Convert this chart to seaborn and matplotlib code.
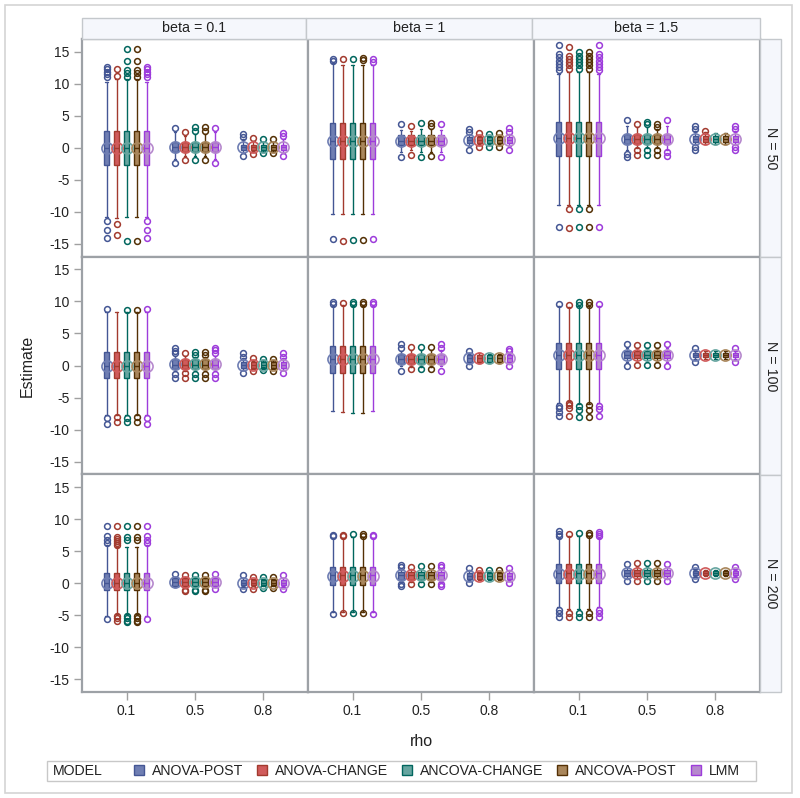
import numpy as np
import pandas as pd
import matplotlib
matplotlib.use("Agg")
import matplotlib.pyplot as plt
import seaborn as sns
from matplotlib.patches import Patch, Rectangle

# --------------------------
# Data
# index order: [N][beta][rho] (and [model] where given)
# --------------------------
n_vals = [50, 100, 200]
betas = ["0.1", "1", "1.5"]
rhos = ["0.1", "0.5", "0.8"]
models = ["ANOVA-POST", "ANOVA-CHANGE", "ANCOVA-CHANGE", "ANCOVA-POST", "LMM"]

line_cols = ["#445694", "#A23A2E", "#01665E", "#543005", "#9D3CDB"]
fill_cols = ["#6F7EB3", "#D05B5B", "#66A5A0", "#A9865B", "#B689CD"]

q1 = [
    [[-2.7, -0.7, -0.3], [-1.7, 0.4, 0.7], [-1.2, 0.6, 0.9]],
    [[-2.0, -0.6, -0.4], [-1.2, 0.2, 0.6], [-0.6, 1.1, 1.3]],
    [[-1.1, -0.4, -0.3], [-0.3, 0.5, 0.7], [0.0, 1.1, 1.3]],
]
med = [
    [[0.0, 0.1, 0.1], [1.1, 1.1, 1.2], [1.5, 1.4, 1.4]],
    [[0.0, 0.1, 0.1], [1.0, 1.0, 1.1], [1.6, 1.7, 1.6]],
    [[0.1, 0.2, 0.1], [1.2, 1.2, 1.1], [1.6, 1.6, 1.6]],
]
q3 = [
    [[2.7, 0.9, 0.4], [3.9, 2.0, 1.7], [4.0, 2.2, 1.9]],
    [[2.1, 1.0, 0.6], [3.1, 1.8, 1.6], [3.5, 2.3, 1.9]],
    [[1.6, 0.8, 0.5], [2.6, 1.8, 1.6], [3.0, 2.1, 1.9]],
]
mean_est = [
    [[0.0, 0.1, 0.1], [1.1, 1.1, 1.2], [1.6, 1.4, 1.4]],
    [[0.0, 0.2, 0.1], [1.0, 1.0, 1.1], [1.6, 1.7, 1.6]],
    [[0.1, 0.2, 0.1], [1.1, 1.2, 1.1], [1.5, 1.6, 1.6]],
]

whisk_hi = [
    [[[10.3, 10.8, 10.8, 10.8, 10.3], [2.4, 1.9, 2.1, 2.1, 2.4], [1.4, 1.0, 0.9, 0.9, 1.4]],
     [[13.2, 13.0, 13.0, 13.0, 13.0], [2.8, 2.7, 2.9, 2.9, 2.8], [2.1, 1.9, 1.9, 1.9, 2.1]],
     [[11.6, 11.9, 11.9, 11.9, 11.6], [3.4, 3.2, 3.2, 3.0, 3.4], [2.6, 2.4, 2.3, 2.3, 2.6]]],
    [[[8.3, 8.3, 8.3, 8.3, 8.3], [1.5, 1.5, 1.4, 1.4, 1.5], [1.1, 0.9, 0.8, 0.8, 1.1]],
     [[9.3, 9.5, 9.3, 9.3, 9.3], [2.3, 2.4, 2.4, 2.4, 2.4], [2.0, 1.9, 1.8, 1.8, 2.0]],
     [[9.3, 9.2, 9.3, 9.3, 9.3], [2.8, 2.8, 2.8, 2.8, 2.8], [2.3, 2.2, 2.2, 2.2, 2.3]]],
    [[[5.9, 5.6, 5.6, 5.6, 5.9], [1.0, 0.9, 0.9, 0.9, 1.0], [0.8, 0.7, 0.6, 0.6, 0.8]],
     [[7.0, 7.0, 7.2, 7.2, 7.0], [2.2, 2.2, 2.2, 2.2, 2.2], [2.0, 1.8, 1.8, 1.8, 2.0]],
     [[7.0, 7.3, 7.4, 7.4, 7.0], [2.6, 2.5, 2.5, 2.5, 2.6], [2.2, 2.1, 2.1, 2.1, 2.2]]],
]
whisk_lo = [
    [[[-10.8, -11.0, -10.8, -10.8, -10.8], [-1.8, -1.3, -1.3, -1.3, -1.8], [-0.8, -0.7, -0.6, -0.6, -0.8]],
     [[-10.3, -10.3, -10.3, -10.3, -10.3], [-0.6, -0.4, -0.6, -0.6, -0.6], [0.3, 0.4, 0.4, 0.4, 0.3]],
     [[-9.0, -9.0, -9.0, -9.0, -9.0], [-0.4, 0.0, 0.0, 0.0, -0.3], [0.5, 0.6, 0.6, 0.6, 0.5]]],
    [[[-7.8, -7.8, -7.8, -7.8, -7.8], [-0.9, -0.9, -0.9, -0.9, -0.9], [-0.7, -0.6, -0.5, -0.5, -0.7]],
     [[-7.1, -7.3, -7.4, -7.4, -7.1], [0.0, -0.2, -0.2, -0.2, 0.0], [0.3, 0.4, 0.4, 0.4, 0.3]],
     [[-5.8, -5.6, -6.0, -6.0, -5.8], [0.5, 0.6, 0.6, 0.6, 0.5], [0.9, 1.0, 1.0, 1.0, 0.9]]],
    [[[-5.2, -4.8, -4.8, -4.8, -5.2], [-0.6, -0.7, -0.7, -0.7, -0.6], [-0.6, -0.5, -0.4, -0.4, -0.6]],
     [[-4.5, -4.5, -4.5, -4.5, -4.5], [0.2, 0.2, 0.2, 0.2, 0.2], [0.4, 0.5, 0.5, 0.5, 0.4]],
     [[-3.7, -4.0, -4.0, -4.0, -3.7], [0.7, 0.7, 0.7, 0.7, 0.7], [1.0, 1.1, 1.1, 1.1, 1.0]]],
]

out_hi = [
    [[[[11.1, 11.5, 11.9, 12.3, 12.6], [11.2, 12.3], [11.1, 11.7, 12.2, 13.6, 15.5],
       [11.1, 11.7, 12.2, 13.6, 15.5], [11.1, 11.5, 11.9, 12.3, 12.6]],
      [[3.1], [2.5], [2.6, 3.2], [2.7, 3.2], [3.1]],
      [[1.7, 2.2], [1.5], [1.4], [1.4], [1.8, 2.3]]],
     [[[13.5, 13.9], [13.8], [13.8], [13.7, 14.0], [13.4, 13.8]],
      [[3.7], [3.4], [3.9], [3.4, 3.9], [3.7]],
      [[2.5, 3.0], [2.3], [2.2], [2.3], [2.5, 3.1]]],
     [[[12.1, 12.6, 13.1, 13.6, 14.2, 14.7, 16.0], [12.3, 12.9, 13.4, 13.9, 14.4, 15.7],
       [12.3, 12.9, 13.4, 13.9, 14.4, 14.9], [12.3, 12.9, 13.4, 13.9, 14.4, 14.9],
       [12.1, 12.6, 13.1, 13.6, 14.2, 14.7, 16.0]],
      [[4.4], [3.7], [3.7, 4.0], [3.3, 3.8], [4.4]],
      [[3.0, 3.4], [2.7], [], [], [3.0, 3.4]]]],
    [[[[8.8], [], [8.6], [8.6], [8.8]],
      [[1.9, 2.3, 2.7], [2.0], [1.7, 2.1], [1.7, 2.1], [2.0, 2.4, 2.7]],
      [[1.4, 1.9], [1.2], [1.0], [1.0], [1.4, 1.9]]],
     [[[9.6, 9.9], [9.7], [9.6, 9.9], [9.6, 9.9], [9.6, 9.9]],
      [[2.8, 3.3], [2.9], [2.9], [2.9], [2.8, 3.3]],
      [[2.3], [], [], [], [2.3, 2.6]]],
     [[[9.6], [9.5], [9.5, 9.9], [9.5, 9.9], [9.6]],
      [[3.3], [3.2], [3.2], [3.2], [3.3]],
      [[2.7], [], [], [], [2.7]]]],
    [[[[6.3, 6.8, 7.3, 8.9], [6.0, 6.3, 6.6, 6.9, 7.2, 8.9], [6.8, 7.2, 8.9],
       [6.8, 7.2, 8.9], [6.3, 6.8, 7.3, 8.9]],
      [[1.4], [1.3], [1.3], [1.3], [1.4]],
      [[1.3], [1.0], [0.9], [0.9], [1.3]]],
     [[[7.3, 7.6], [7.3, 7.6], [7.7], [7.4, 7.7], [7.3, 7.6]],
      [[2.6, 2.9], [2.6], [2.7], [2.7], [2.6, 2.9]],
      [[2.4], [2.1], [2.1], [2.1], [2.4]]],
     [[[7.3, 7.7, 8.2], [7.7], [7.9], [7.6, 7.9], [7.3, 7.7, 8.0]],
      [[3.0], [3.1], [3.1], [3.1], [3.0]],
      [[2.5], [], [], [], [2.6]]]],
]
out_lo = [
    [[[[-11.4, -12.9, -14.1], [-11.9, -13.6], [-14.5], [-14.5], [-11.4, -12.9, -14.1]],
      [[-2.4], [-1.9], [-1.9], [-1.9], [-2.4]],
      [[-1.2], [-1.0], [-0.8], [-0.8], [-1.2]]],
     [[[-14.3], [-14.5], [-14.4], [-14.4], [-14.3]],
      [[-1.4], [-1.1], [-1.4], [-1.3], [-1.5]],
      [[-0.4], [0.1], [0.1], [0.1], [-0.4]]],
     [[[-12.4], [-9.5, -12.6], [-9.5, -12.4], [-9.5, -12.4], [-12.4]],
      [[-0.9, -1.5], [-0.4, -1.1], [-0.4, -1.1], [-0.4, -1.1], [-0.6, -1.3]],
      [[0.1, -0.3], [], [], [], [0.1, -0.3]]]],
    [[[[-8.2, -9.1], [-8.1, -8.9], [-8.2, -8.9], [-8.1, -8.9], [-8.2, -9.1]],
      [[-1.4, -1.9], [-1.1, -1.9], [-1.3, -1.9], [-1.3, -1.9], [-1.3, -1.9]],
      [[-1.1], [-0.8], [-0.7], [-0.8], [-1.1]]],
     [[[], [], [], [], []],
      [[-0.9], [-0.5], [-0.5], [-0.5], [-0.9]],
      [[0.0], [], [], [], [0.0]]],
     [[[-6.3, -6.7, -7.2, -7.9], [-5.9, -6.2, -6.7, -7.9], [-6.3, -6.9, -8.1],
       [-6.2, -6.9, -8.1], [-6.3, -6.8, -7.9]],
      [[0.0], [0.1], [0.1], [0.1], [0.0]],
      [[0.5], [], [], [], [0.5]]]],
    [[[[-5.6], [-5.1, -5.5, -5.9], [-5.1, -5.5, -5.9, -6.1], [-5.1, -5.5, -5.9, -6.1], [-5.6]],
      [[], [-1.0, -1.3], [-1.0, -1.3], [-1.0, -1.3], [-0.9]],
      [[-0.9], [-0.9], [-0.7], [-0.7], [-0.9]]],
     [[[-4.8], [-4.7], [-4.7], [-4.7], [-4.8]],
      [[-0.2, -0.5], [-0.2], [-0.1], [-0.1], [-0.2, -0.5]],
      [[0.1], [], [], [], [0.1]]],
     [[[-4.2, -4.7, -5.3], [-4.7, -5.3], [-4.7, -5.3], [-4.7, -5.3], [-4.2, -4.7, -5.3]],
      [[0.3], [0.3], [0.4], [0.3], [0.3]],
      [[0.7], [], [], [], [0.7]]]],
]

# --------------------------
# Style
# --------------------------
sns.set_theme(style="white")
plt.rcParams["font.family"] = ["Liberation Sans", "DejaVu Sans"]
TXT = "#222222"
BORDER = "#9da1a6"

W, H = 800, 798
px_l, px_r, px_t, px_b = 82, 760, 39, 692


def fx(px):
    return px / W


def fy(py):
    return 1 - py / H


offsets = [-0.292, -0.146, 0.0, 0.146, 0.292]


def draw_panel(data, color=None, **kws):
    ax = plt.gca()
    i = n_vals.index(data["N"].iloc[0])
    j = betas.index(data["beta"].iloc[0])
    for r in range(len(rhos)):
        for m in range(len(models)):
            st = dict(
                med=med[i][j][r], q1=q1[i][j][r], q3=q3[i][j][r],
                whislo=whisk_lo[i][j][r][m], whishi=whisk_hi[i][j][r][m],
                mean=mean_est[i][j][r],
                fliers=out_lo[i][j][r][m] + out_hi[i][j][r][m],
            )
            lc, fc = line_cols[m], fill_cols[m]
            ax.bxp([st], positions=[r + offsets[m]], widths=0.085,
                   capwidths=0.04, patch_artist=True, showmeans=True,
                   manage_ticks=False,
                   boxprops=dict(facecolor=fc, edgecolor=lc, linewidth=1),
                   medianprops=dict(color=lc, linewidth=1),
                   whiskerprops=dict(color=lc, linewidth=1),
                   capprops=dict(color=lc, linewidth=1),
                   flierprops=dict(marker="o", markerfacecolor="none",
                                   markeredgecolor=lc, markersize=4.2,
                                   markeredgewidth=1.1),
                   meanprops=dict(marker="o", markerfacecolor="none",
                                  markeredgecolor=fc, markersize=8,
                                  markeredgewidth=1.2))


panels = pd.DataFrame([(n, b) for n in n_vals for b in betas], columns=["N", "beta"])
g = sns.FacetGrid(panels, row="N", col="beta", row_order=n_vals, col_order=betas,
                  sharex=True, sharey=True, despine=False, height=2.6, aspect=1.0)
g.map_dataframe(draw_panel)
g.set_titles(template="")

fig = g.figure
fig.set_size_inches(W / 100, H / 100)
fig.set_dpi(100)
fig.subplots_adjust(left=fx(px_l), right=fx(px_r), top=fy(px_t), bottom=fy(px_b),
                    wspace=0, hspace=0)

for i in range(3):
    for j in range(3):
        ax = g.axes[i, j]
        ax.set_xlim(-0.65, 2.65)
        ax.set_ylim(-17, 17)
        ax.set_xticks(range(3))
        ax.set_xticklabels(rhos)
        ax.set_yticks(range(-15, 16, 5))
        ax.set_yticklabels([str(v) for v in range(-15, 16, 5)])
        ax.set_xlabel("")
        ax.set_ylabel("")
        ax.grid(False)
        for s in ax.spines.values():
            s.set_color(BORDER)
            s.set_linewidth(1.6)
        ax.tick_params(axis="both", direction="out", length=6, width=1,
                       color="#a0a0a0", labelsize=10, labelcolor=TXT, pad=3,
                       left=(j == 0), bottom=(i == 2),
                       labelleft=(j == 0), labelbottom=(i == 2))

# column header strips
col_edges = [82, 306, 532, 760]
for j, b in enumerate(betas):
    x0, x1 = col_edges[j], col_edges[j + 1]
    fig.patches.append(Rectangle((fx(x0), fy(39)), fx(x1 - x0), (39 - 18) / H,
                                 transform=fig.transFigure, facecolor="#f5f7fc",
                                 edgecolor="#c4c8cc", linewidth=1, zorder=0))
    fig.text(fx((x0 + x1) / 2), fy(28.5), f"beta = {b}", ha="center", va="center",
             fontsize=10.3, color=TXT)

# row header strips
row_edges = [39, 257, 475, 692]
for i, n in enumerate(n_vals):
    y0, y1 = row_edges[i], row_edges[i + 1]
    fig.patches.append(Rectangle((fx(760), fy(y1)), fx(21), (y1 - y0) / H,
                                 transform=fig.transFigure, facecolor="#f5f7fc",
                                 edgecolor="#c4c8cc", linewidth=1, zorder=0))
    fig.text(fx(771), fy((y0 + y1) / 2), f"N = {n}", ha="center", va="center",
             rotation=-90, fontsize=10.3, color=TXT)

# outer frame
fig.patches.append(Rectangle((fx(5), fy(793)), fx(787), 788 / H,
                             transform=fig.transFigure, facecolor="none",
                             edgecolor="#d4d4d4", linewidth=1.2, zorder=0))

# axis labels
fig.text(fx(27), fy(365.5), "Estimate", rotation=90, ha="center", va="center",
         fontsize=11.5, color=TXT)
fig.text(fx(421), fy(742), "rho", ha="center", va="center", fontsize=11.5, color=TXT)

# legend
fig.patches.append(Rectangle((fx(47), fy(781)), fx(709), 20 / H,
                             transform=fig.transFigure, facecolor="none",
                             edgecolor="#c8c8c8", linewidth=1, zorder=0))
fig.text(fx(53), fy(771), "MODEL", ha="left", va="center", fontsize=10.2, color=TXT)
handles = [Patch(facecolor=fc, edgecolor=lc, linewidth=1)
           for fc, lc in zip(fill_cols, line_cols)]
fig.legend(handles, models, ncol=5, frameon=False, loc="center left",
           bbox_to_anchor=(fx(124), fy(771)), fontsize=10.2, handlelength=0.7,
           handleheight=0.7, handletextpad=0.55, columnspacing=1.0,
           labelcolor=TXT, borderpad=0.2)

fig.savefig("out.png", dpi=100)
